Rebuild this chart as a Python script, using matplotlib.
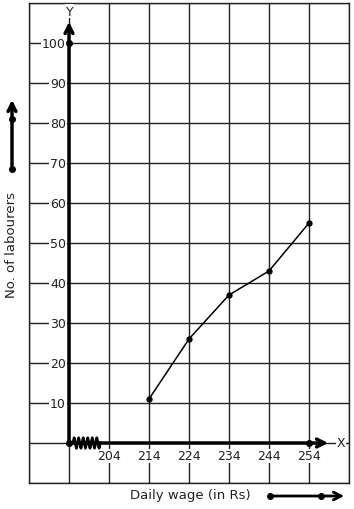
import matplotlib.pyplot as plt
import numpy as np

wages = [214, 224, 234, 244, 254]
labourers = [11, 26, 37, 43, 55]
x_ticks = [204, 214, 224, 234, 244, 254]
y_ticks = [10, 20, 30, 40, 50, 60, 70, 80, 90, 100]


def pos(w):
    # one grid cell per 10 Rs, origin stands for 194 (kinked axis)
    return (np.asarray(w) - 194) / 10


fig = plt.figure(figsize=(3.54, 5.10), dpi=100)
ax = fig.add_axes([29 / 354, 26 / 510, 320 / 354, 480 / 510])
ax.set_xlim(-1, 7)
ax.set_ylim(-10, 110)
ax.set_xticks(range(-1, 8))
ax.set_yticks(range(-10, 111, 10))
ax.tick_params(length=0, labelbottom=False, labelleft=False)
ax.grid(True, color="#222222", lw=1.0)
for sp in ax.spines.values():
    sp.set_color("#222222")
    sp.set_linewidth(1.0)

lab = dict(fontsize=9, color="#222222", bbox=dict(fc="white", ec="none", pad=0.5), zorder=3)
for v in y_ticks:
    ax.text(-0.08, v, str(v), ha="right", va="center", **lab)
for w in x_ticks:
    ax.text(pos(w), -3.2, str(w), ha="center", va="center", **lab)

# axes
ax.annotate("", xy=(0, 106), xytext=(0, 0),
            arrowprops=dict(arrowstyle="->", lw=2.5, mutation_scale=14, color="black"), zorder=4)
ax.annotate("", xy=(6.55, 0), xytext=(0, 0),
            arrowprops=dict(arrowstyle="->", lw=2.5, mutation_scale=14, color="black"), zorder=4)
ax.text(0.02, 108, "Y", ha="center", va="center", **lab)
ax.text(6.8, 0, "X", ha="center", va="center", **lab)
ax.plot([0, 0, pos(254)], [0, 100, 0], "o", color="black", ms=4, zorder=5)

# kink on the x axis
zx = np.linspace(0.1, 0.78, 25)
zy = np.array([0, 1.3, 0, -1.3] * 7)[:25]
ax.plot(zx, zy, color="black", lw=2, zorder=5)

ax.plot(pos(wages), labourers, "-o", color="black", lw=1.1, ms=3.5, zorder=5)

# scale arrows outside the plot
ax.annotate("", xy=(12, 412), xytext=(12, 340), xycoords="figure pixels",
            arrowprops=dict(arrowstyle="->", lw=2.5, mutation_scale=14, color="black"),
            annotation_clip=False)
ax.plot([12, 12], [340, 390], "o", color="black", ms=4, transform=None, clip_on=False)
ax.annotate("", xy=(347, 13), xytext=(270, 13), xycoords="figure pixels",
            arrowprops=dict(arrowstyle="->", lw=2, mutation_scale=14, color="black"),
            annotation_clip=False)
ax.plot([270, 321], [13, 13], "o", color="black", ms=4, transform=None, clip_on=False)

fig.text(12 / 354, 265 / 510, "No. of labourers", rotation=90, ha="center", va="center",
         fontsize=9.5, color="#222222")
fig.text(190 / 354, 14 / 510, "Daily wage (in Rs)", ha="center", va="center",
         fontsize=9.5, color="#222222")

fig.savefig("out.png", dpi=100)
